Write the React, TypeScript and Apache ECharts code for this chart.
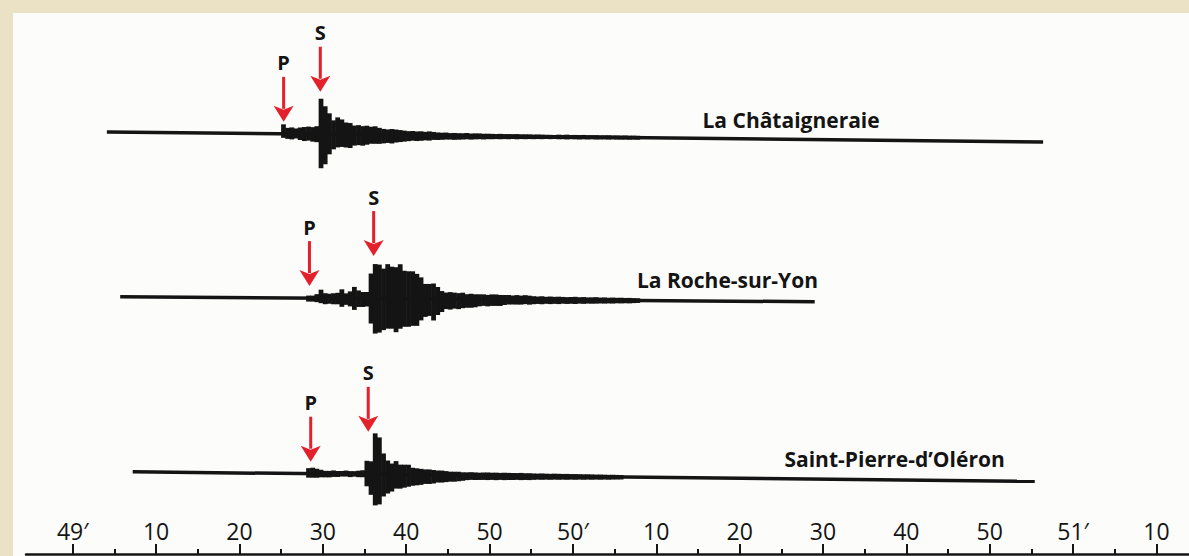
import React, { useEffect, useRef } from "react";
import * as echarts from "echarts";

// ---------------- data ----------------
// time axis in seconds after 49'00
const tickValues = [0, 10, 20, 30, 40, 50, 60, 70, 80, 90, 100, 110, 120, 130];
const tickLabels = ["49′", "10", "20", "30", "40", "50", "50′", "10", "20", "30", "40", "50", "51′", "10"];
const minorTickValues = [5, 15, 25, 35, 45, 55, 65, 75, 85, 95, 105, 115, 125];

const stations = ["La Châtaigneraie", "La Roche-sur-Yon", "Saint-Pierre-d’Oléron"];
const recordStart = [4.1, 5.7, 7.2];
const recordEnd = [116.4, 89.0, 115.4];
const pArrival = [25.3, 28.4, 28.55];
const sArrival = [29.7, 36.1, 35.45];
const envelopeStart = [25.0, 28.0, 28.0];
const binWidth = 0.5;

const chataigneraieUp = [
  9.5, 6, 6.5, 5.5, 6.5, 7, 7.5, 7, 8, 35.5, 28, 21, 14, 17, 15, 12, 11.5, 9, 9.5, 8.5,
  9, 8, 8.5, 7, 6, 5.5, 6, 5.5, 5, 4.5, 4, 4.2, 3.8, 4, 3.5, 4, 3.5, 3, 2.8, 3,
  2.5, 2.7, 2.5, 2.5, 2.8, 2.3, 2.5, 2.5, 2.2, 2.3, 2.2, 2, 2.3, 2, 2.1, 2, 2.2, 1.9, 2, 2,
  1.8, 2, 1.9, 1.8, 1.8, 1.7, 2.1, 1.9, 2.2, 1.8, 2, 1.9, 2.1, 1.8, 1.9, 2, 1.8, 1.9, 2, 1.8,
  1.9, 1.8, 2, 1.8, 1.9, 1.8,
];
const chataigneraieDown = [
  4, 5, 5.5, 4.5, 6, 7, 6.5, 7.5, 8, 34, 30, 20, 15, 13, 12.5, 13, 13.5, 11, 10.5, 11,
  10, 9, 9, 9, 8.5, 8, 8.5, 7.5, 7, 6.5, 6, 5.5, 5.8, 5.5, 5, 5.2, 4.5, 4.5, 4.3, 4,
  4, 4.2, 4, 3.8, 3.5, 3.8, 3.5, 3.3, 3.5, 3.2, 3.2, 3, 3.1, 2.9, 3, 2.8, 3, 2.7, 2.8, 2.6,
  2.7, 2.5, 2.6, 2.4, 2.5, 2.3, 2.5, 2.4, 2.6, 2.3, 2.4, 2.5, 2.3, 2.4, 2.2, 2.4, 2.3, 2.2, 2.3, 2.1,
  2.2, 2.2, 2.1, 2.2, 2, 2.1,
];
const rocheUp = [
  2.5, 2.5, 4, 8.5, 5, 4.5, 5, 5.5, 9, 5, 7, 11.5, 8, 6.5, 6.5, 25, 34.5, 34, 30, 34.5,
  32, 31.5, 34.5, 28, 27.5, 27.5, 25, 21.5, 15, 15, 15.5, 12, 8, 6.5, 7, 6.5, 6, 6.5, 5, 5.5,
  5, 5, 5, 4.5, 5, 5, 4.5, 4.5, 4.5, 4, 4.5, 4, 4.5, 4,
  3.5, 3.2, 3.5, 3, 3.3, 3, 3.2, 3, 2.8, 3, 3.2, 2.8, 3, 2.7, 2.8, 3, 2.6, 2.8, 2.5, 2.7,
  2.5, 2.6, 2.4, 2.5, 2.3, 2.2,
];
const rocheDown = [
  3.5, 3.5, 4, 5, 6, 5.5, 6, 6, 8.5, 6.5, 8, 11.5, 8.5, 8.5, 8, 25, 35, 34, 31.5, 30,
  30, 33.5, 30, 28, 28, 27, 27, 21.5, 18, 17, 21.5, 16, 13, 10, 10.5, 9.5, 10, 9, 8.5, 8.5,
  8, 7, 6.5, 7, 6.5, 6.5, 6.5, 5.5, 5, 5, 5, 5, 4.5, 5,
  4.5, 4.2, 4.5, 4, 4.3, 4, 4.2, 3.8, 4, 3.8, 4, 3.6, 3.8, 3.5, 3.6, 3.5, 3.3, 3.4, 3.2, 3.3,
  3, 3.1, 2.9, 3, 2.7, 2.5,
];
const oleronUp = [
  5.5, 6, 5, 4, 3, 3, 3.5, 3, 3, 3.5, 3, 3, 3.5, 4, 13.5, 13, 41, 37, 21, 14,
  11, 13.5, 10, 10, 10, 7, 6.5, 6, 5.5, 5.5, 5, 4.5, 4.5, 4, 3.5, 3.5, 3.5, 3,
  3, 3.2, 3, 2.8, 3, 3.1, 2.9, 3, 2.8, 3, 2.9, 2.7, 2.8, 3, 2.7, 2.8,
  2.6, 2.5, 2.7, 2.5, 2.4, 2.6, 2.5, 2.4, 2.5, 2.3, 2.4, 2.3, 2.2, 2.3, 2.2, 2.1, 2.2, 2.1, 2, 2.1,
  2, 1.9,
];
const oleronDown = [
  4, 4, 4, 3.5, 3.5, 3.5, 3, 3, 2.5, 2.5, 3, 2.5, 3, 3, 12, 20.5, 31, 30, 22, 19,
  17, 14, 14, 13, 12, 11, 10.5, 10, 9, 9, 8.5, 7.5, 7.5, 7, 6.5, 6.5, 6, 5.5,
  4.8, 4.5, 4.6, 4.5, 4.4, 4.5, 4.3, 4.5, 4.2, 4.4, 4.2, 4.3, 4, 4.2, 4, 4.1,
  3.8, 3.6, 3.7, 3.5, 3.6, 3.4, 3.5, 3.3, 3.4, 3.2, 3.3, 3.1, 3.2, 3, 3.1, 2.9, 3, 2.8, 2.9, 2.7,
  2.6, 2.5,
];

const envelopesUp = [chataigneraieUp, rocheUp, oleronUp];
const envelopesDown = [chataigneraieDown, rocheDown, oleronDown];

// ---------------- layout ----------------
const AXIS_MIN = -5.6;
const AXIS_MAX = 133.9;
const Y_MAX = 554;
const INK = "#141414";
const RED = "#e3202b";
const FONT = "'Open Sans', 'Noto Sans', sans-serif";
const traceLayout = [
  { y0: 422.4, tilt: 0.089, labelLift: 20.5 },
  { y0: 257.6, tilt: 0.06, labelLift: 22 },
  { y0: 82.8, tilt: 0.088, labelLift: 22 },
];
const labelEnd = [96.8, 89.4, 111.8];
const baseAt = (i: number, t: number) => traceLayout[i].y0 - traceLayout[i].tilt * t;

export default function App() {
  const ref = useRef<HTMLDivElement>(null);

  useEffect(() => {
    if (!ref.current) return;
    const chart = echarts.init(ref.current, undefined, { renderer: "svg" });

    const recordData = stations.map((_, i) => [recordStart[i], recordEnd[i], i]);
    const arrowData: number[][] = [];
    stations.forEach((_, i) => {
      arrowData.push([pArrival[i], i, 0]);
      arrowData.push([sArrival[i], i, 1]);
    });
    const labelData = stations.map((_, i) => [labelEnd[i], i]);

    const envelopeSeries = stations.map((name, i) => ({
      type: "custom",
      name,
      xAxisIndex: 0,
      yAxisIndex: 0,
      z: 3,
      data: envelopesUp[i].map((u, k) => [envelopeStart[i] + k * binWidth, u, envelopesDown[i][k]]),
      renderItem: (params: any, api: any) => {
        const t = api.value(0);
        const up = api.value(1);
        const down = api.value(2);
        const p1 = api.coord([t, baseAt(i, t) + up]);
        const p2 = api.coord([t + binWidth, baseAt(i, t) - down]);
        return {
          type: "rect",
          shape: { x: p1[0], y: p1[1], width: p2[0] - p1[0] + 0.6, height: p2[1] - p1[1] },
          style: { fill: INK },
        };
      },
    }));

    chart.setOption({
      animation: false,
      backgroundColor: "transparent",
      grid: { left: 26, right: 0, top: 0, bottom: 2, containLabel: false, outerBoundsMode: "none" },
      xAxis: [
        {
          type: "value",
          min: AXIS_MIN,
          max: AXIS_MAX,
          position: "bottom",
          axisLine: { show: true, onZero: false, lineStyle: { color: INK, width: 2.5 } },
          axisTick: { show: true, inside: true, length: 10, customValues: tickValues, lineStyle: { color: INK, width: 2 } },
          axisLabel: {
            show: true,
            inside: true,
            margin: 12,
            customValues: tickValues,
            formatter: (v: number) => {
              const k = tickValues.indexOf(Math.round(v));
              return k >= 0 ? tickLabels[k] : "";
            },
            color: INK,
            fontSize: 23,
            fontFamily: FONT,
          },
          splitLine: { show: false },
        },
        {
          type: "value",
          min: AXIS_MIN,
          max: AXIS_MAX,
          position: "bottom",
          axisLine: { show: false, onZero: false },
          axisTick: { show: true, inside: true, length: 5, customValues: minorTickValues, lineStyle: { color: INK, width: 2 } },
          axisLabel: { show: false },
          splitLine: { show: false },
        },
      ],
      yAxis: { type: "value", min: 0, max: Y_MAX, show: false },
      series: [
        {
          type: "custom",
          name: "records",
          xAxisIndex: 0,
          yAxisIndex: 0,
          z: 2,
          data: recordData,
          renderItem: (params: any, api: any) => {
            const s = api.value(0);
            const e = api.value(1);
            const i = api.value(2);
            const a = api.coord([s, baseAt(i, s)]);
            const b = api.coord([e, baseAt(i, e)]);
            return {
              type: "line",
              shape: { x1: a[0], y1: a[1], x2: b[0], y2: b[1] },
              style: { stroke: INK, lineWidth: 3.5 },
            };
          },
        },
        ...envelopeSeries,
        {
          type: "custom",
          name: "arrivals",
          xAxisIndex: 0,
          yAxisIndex: 0,
          z: 4,
          data: arrowData,
          renderItem: (params: any, api: any) => {
            const t = api.value(0);
            const i = api.value(1);
            const kind = api.value(2);
            const lift = kind === 0 ? 12 : 42.5;
            const tip = api.coord([t, baseAt(i, t) + lift]);
            const x = tip[0];
            const y = tip[1];
            const len = 45;
            const head = 16;
            const half = 10;
            return {
              type: "group",
              children: [
                { type: "line", shape: { x1: x, y1: y - len, x2: x, y2: y - head + 3 }, style: { stroke: RED, lineWidth: 3 } },
                {
                  type: "polygon",
                  shape: { points: [[x - half, y - head], [x, y - head + 4], [x + half, y - head], [x, y]] },
                  style: { fill: RED },
                },
                {
                  type: "text",
                  style: {
                    text: kind === 0 ? "P" : "S",
                    x,
                    y: y - len - 14,
                    align: "center",
                    verticalAlign: "middle",
                    fontSize: 20,
                    fontWeight: "bold",
                    fontFamily: FONT,
                    fill: INK,
                  },
                },
              ],
            };
          },
        },
        {
          type: "custom",
          name: "stations",
          xAxisIndex: 0,
          yAxisIndex: 0,
          z: 4,
          data: labelData,
          renderItem: (params: any, api: any) => {
            const t = api.value(0);
            const i = api.value(1);
            const p = api.coord([t, baseAt(i, t) + traceLayout[i].labelLift]);
            return {
              type: "text",
              style: {
                text: stations[i],
                x: p[0],
                y: p[1],
                align: "right",
                verticalAlign: "middle",
                fontSize: 21,
                fontWeight: "bold",
                fontFamily: FONT,
                fill: INK,
              },
            };
          },
        },
      ],
    });

    return () => chart.dispose();
  }, []);

  return (
    <div style={{ position: "absolute", left: 0, top: 0, width: 1189, height: 556, background: "#ebe2c5", overflow: "hidden" }}>
      <div style={{ position: "absolute", left: 13, top: 13, right: 0, bottom: 0, background: "#fcfcfa" }} />
      <div ref={ref} style={{ position: "absolute", left: 0, top: 0, width: 1189, height: 556 }} />
    </div>
  );
}
